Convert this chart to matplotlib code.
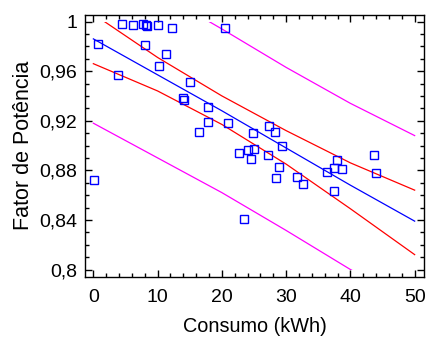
import matplotlib
matplotlib.use("Agg")
import matplotlib.pyplot as plt
from matplotlib.patches import Rectangle
from matplotlib.ticker import MultipleLocator, FuncFormatter

plt.rcParams['font.family'] = ['Liberation Sans', 'DejaVu Sans']

# Observed consumption (kWh) and power factor
consumo = [0.16, 0.73, 3.8, 4.5, 6.1, 7.7, 8.2, 8.3, 8.0, 10.1, 12.2, 11.3,
           10.2, 15.0, 13.9, 14.1, 17.8, 17.8, 16.4, 20.9, 20.5, 22.6, 24.1,
           24.6, 23.4, 24.9, 28.3, 25.0, 27.1, 29.3, 28.9, 28.4, 31.7, 32.6,
           36.4, 37.5, 37.9, 38.7, 37.5, 43.7, 44.0, 27.4]
fator = [0.872, 0.982, 0.957, 0.998, 0.997, 0.998, 0.997, 0.996, 0.981, 0.997,
         0.995, 0.974, 0.964, 0.951, 0.938, 0.937, 0.931, 0.919, 0.911, 0.918,
         0.995, 0.894, 0.896, 0.889, 0.841, 0.910, 0.911, 0.897, 0.892, 0.900,
         0.883, 0.874, 0.875, 0.869, 0.879, 0.882, 0.888, 0.881, 0.863, 0.892,
         0.878, 0.916]

# Fitted line with 95% confidence and prediction limits
x_curve = [0, 10, 20, 30, 40, 50]
ajuste = [0.986, 0.957, 0.928, 0.898, 0.868, 0.839]
conf_sup = [1.006, 0.971, 0.940, 0.912, 0.886, 0.864]
conf_inf = [0.966, 0.944, 0.917, 0.885, 0.849, 0.812]
pred_sup = [1.054, 1.024, 0.994, 0.963, 0.934, 0.908]
pred_inf = [0.918, 0.890, 0.862, 0.8315, 0.800, 0.772]

x_ticks = [0, 10, 20, 30, 40, 50]
y_ticks = [0.80, 0.84, 0.88, 0.92, 0.96, 1.00]

fig = plt.figure(figsize=(4.28, 3.37), dpi=100)
ax = fig.add_axes([85 / 428, 1 - 276.7 / 337, (424.3 - 85) / 428, (276.7 - 14.7) / 337])

clip = Rectangle((-2, 0.8), 60, 0.2, transform=ax.transData)

for ys, col in [(pred_sup, '#ff00ff'), (pred_inf, '#ff00ff'),
                (conf_sup, '#ff0000'), (conf_inf, '#ff0000'),
                (ajuste, '#0000ff')]:
    ln, = ax.plot(x_curve, ys, color=col, lw=0.9)
    ln.set_clip_path(clip)

ax.plot(consumo, fator, linestyle='none', marker='s', markersize=5.2,
        markerfacecolor='none', markeredgecolor='#0000ff', markeredgewidth=1.0)

ax.set_xlim(-1.3, 51.5)
ax.set_ylim(0.7942, 1.0055)
ax.set_xticks(x_ticks)
ax.set_yticks(y_ticks)
ax.xaxis.set_minor_locator(MultipleLocator(2))
ax.yaxis.set_minor_locator(MultipleLocator(0.01))


def virgula(v, pos):
    s = f"{v:.2f}".rstrip('0').rstrip('.')
    return s.replace('.', ',')


ax.yaxis.set_major_formatter(FuncFormatter(virgula))
ax.tick_params(which='both', direction='in', top=True, right=True,
               labelsize=14, width=1.0)
ax.tick_params(axis='x', pad=9)
ax.tick_params(axis='y', pad=5.5)
ax.tick_params(which='major', length=5)
ax.tick_params(which='minor', length=3)
for s in ax.spines.values():
    s.set_linewidth(1.0)

ax.set_xlabel('Consumo (kWh)', fontsize=14.3, labelpad=8)
ax.set_ylabel('Fator de Potência', fontsize=15.5, labelpad=4)

fig.savefig('out.png', dpi=100)
